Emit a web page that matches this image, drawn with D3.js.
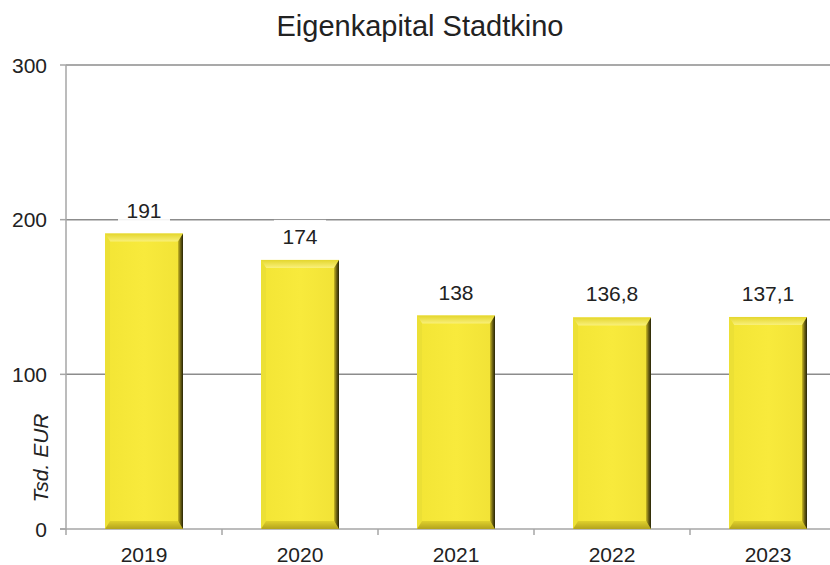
<!DOCTYPE html>
<html>
<head>
<meta charset="utf-8">
<script src="https://cdn.jsdelivr.net/npm/d3@7"></script>
<style>
  html, body { margin: 0; padding: 0; background: #fff; }
  svg { display: block; }
</style>
</head>
<body>
<svg id="chart" width="830" height="565"></svg>
<script>
// Equity of the Stadtkino, thousand EUR per year
const years = ["2019", "2020", "2021", "2022", "2023"];
const values = [191, 174, 138, 136.8, 137.1];
const valueLabels = ["191", "174", "138", "136,8", "137,1"];
const yTicks = [0, 100, 200, 300];
const chartTitle = "Eigenkapital Stadtkino";
const yAxisTitle = "Tsd. EUR";

const W = 830, H = 565;
const plotLeft = 66, plotRight = 846, plotTop = 65, plotBottom = 529;
const font = "'Liberation Sans', Arial, sans-serif";

const svg = d3.select("#chart");

const x = d3.scaleBand().domain(years).range([plotLeft, plotRight]).padding(0);
const y = d3.scaleLinear().domain([0, 300]).range([plotBottom, plotTop]);

const defs = svg.append("defs");
// dark shading on the right bevel
const gR = defs.append("linearGradient").attr("id", "rightBevel")
  .attr("x1", "0").attr("x2", "1").attr("y1", "0").attr("y2", "0");
gR.append("stop").attr("offset", "0").attr("stop-color", "#c9b922");
gR.append("stop").attr("offset", "0.5").attr("stop-color", "#6e6414");
gR.append("stop").attr("offset", "1").attr("stop-color", "#262306");
const gT = defs.append("linearGradient").attr("id", "topBevel")
  .attr("x1", "0").attr("x2", "0").attr("y1", "0").attr("y2", "1");
gT.append("stop").attr("offset", "0").attr("stop-color", "#e4d62c");
gT.append("stop").attr("offset", "1").attr("stop-color", "#f9f07a");
const gB = defs.append("linearGradient").attr("id", "bottomBevel")
  .attr("x1", "0").attr("x2", "0").attr("y1", "0").attr("y2", "1");
gB.append("stop").attr("offset", "0").attr("stop-color", "#e0d12c");
gB.append("stop").attr("offset", "1").attr("stop-color", "#b3a31c");
const gF = defs.append("linearGradient").attr("id", "face")
  .attr("x1", "0").attr("x2", "1").attr("y1", "0").attr("y2", "0");
gF.append("stop").attr("offset", "0").attr("stop-color", "#f3e535");
gF.append("stop").attr("offset", "0.5").attr("stop-color", "#f8ea3c");
gF.append("stop").attr("offset", "1").attr("stop-color", "#f1e236");

// gridlines
svg.append("g").selectAll("line").data(yTicks.filter(d => d > 0)).join("line")
  .attr("x1", plotLeft).attr("x2", W)
  .attr("y1", d => y(d)).attr("y2", d => y(d))
  .attr("stroke", "#8c8c8c").attr("stroke-width", 1.5);

// axes
svg.append("line").attr("x1", plotLeft).attr("x2", plotLeft).attr("y1", y(300)).attr("y2", plotBottom + 1)
  .attr("stroke", "#a6a6a6").attr("stroke-width", 1.5);
svg.append("line").attr("x1", plotLeft - 6).attr("x2", W).attr("y1", plotBottom).attr("y2", plotBottom)
  .attr("stroke", "#a6a6a6").attr("stroke-width", 1.5);

svg.append("g").selectAll("line").data(yTicks).join("line")
  .attr("x1", plotLeft - 6).attr("x2", plotLeft)
  .attr("y1", d => y(d)).attr("y2", d => y(d))
  .attr("stroke", "#a6a6a6").attr("stroke-width", 1.5);

svg.append("g").selectAll("line").data(years).join("line")
  .attr("x1", d => x(d)).attr("x2", d => x(d))
  .attr("y1", plotBottom).attr("y2", plotBottom + 6)
  .attr("stroke", "#a6a6a6").attr("stroke-width", 1.5);

svg.append("g").selectAll("text").data(yTicks).join("text")
  .attr("x", plotLeft - 19).attr("y", d => y(d)).attr("dy", "0.36em")
  .attr("text-anchor", "end")
  .attr("font-family", font).attr("font-size", 21).attr("fill", "#222")
  .text(d => d);

svg.append("g").selectAll("text").data(years).join("text")
  .attr("x", d => x(d) + x.bandwidth() / 2).attr("y", plotBottom + 33)
  .attr("text-anchor", "middle")
  .attr("font-family", font).attr("font-size", 21).attr("fill", "#222")
  .text(d => d);

// bevelled bars
const bw = x.bandwidth() * 0.5;
const bev = 8, side = 5;
const rows = years.map((c, i) => ({ c, v: values[i], lab: valueLabels[i] }));
const bars = svg.append("g").selectAll("g").data(rows)
  .join("g")
  .attr("transform", d => `translate(${x(d.c) + (x.bandwidth() - bw) / 2},${y(d.v)})`);

bars.each(function (d) {
  const g = d3.select(this);
  const h = plotBottom - y(d.v);
  g.append("rect").attr("width", bw).attr("height", h).attr("fill", "url(#face)");
  // top
  g.append("path").attr("d", `M0,0H${bw}L${bw - side},${bev}H${side}Z`).attr("fill", "url(#topBevel)");
  // left
  g.append("path").attr("d", `M0,0L${side},${bev}V${h - bev}L0,${h}Z`).attr("fill", "#ece035");
  // bottom
  g.append("path").attr("d", `M0,${h}L${side},${h - bev}H${bw - side}L${bw},${h}Z`).attr("fill", "url(#bottomBevel)");
  // right
  g.append("path").attr("d", `M${bw},0L${bw - side},${bev}V${h - bev}L${bw},${h}Z`).attr("fill", "url(#rightBevel)");
});

// value labels on white plates
const labels = svg.append("g").selectAll("g").data(rows)
  .join("g")
  .attr("transform", d => `translate(${x(d.c) + x.bandwidth() / 2},${y(d.v) - 16})`);
labels.append("rect")
  .attr("x", -26).attr("y", -24).attr("width", 52).attr("height", 30)
  .attr("fill", "#fff").attr("fill-opacity", 0.9);
labels.append("text")
  .attr("text-anchor", "middle")
  .attr("font-family", font).attr("font-size", 21).attr("fill", "#222")
  .text(d => d.lab);

// title
svg.append("text").attr("x", 420).attr("y", 36).attr("text-anchor", "middle")
  .attr("font-family", font).attr("font-size", 29).attr("fill", "#222")
  .text(chartTitle);

// y axis title
svg.append("text")
  .attr("transform", "translate(48,458) rotate(-90)")
  .attr("text-anchor", "middle")
  .attr("font-family", font).attr("font-size", 21).attr("font-style", "italic").attr("fill", "#222")
  .text(yAxisTitle);
</script>
</body>
</html>
